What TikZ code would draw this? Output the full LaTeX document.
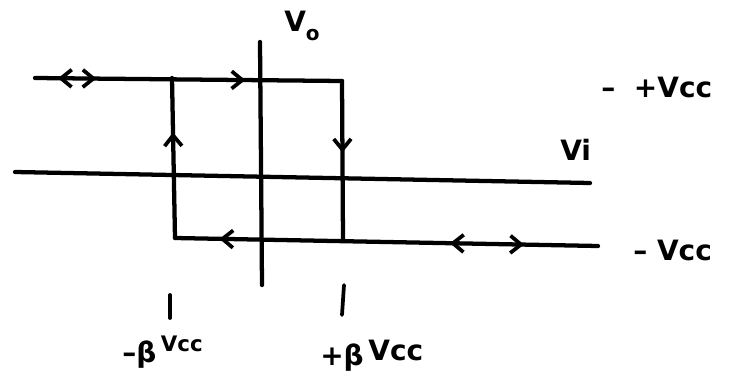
\documentclass[tikz,border=0pt]{standalone}
\usepackage{fontspec}
\setmainfont{DejaVu Sans}
\usetikzlibrary{arrows.meta,decorations.markings}
\tikzset{
  ln/.style={line width=3.2pt, line cap=round, line join=round},
  tk/.style={line width=2.8pt, line cap=round},
  lab/.style={font=\bfseries\fontsize{21}{24}\selectfont, inner sep=0pt},
  fwd/.style={postaction={decorate,decoration={markings,mark=at position #1 with {\arrow{Straight Barb[length=8pt,width=13pt,line width=2.8pt]}}}}},
  bwd/.style={postaction={decorate,decoration={markings,mark=at position #1 with {\arrowreversed{Straight Barb[length=8pt,width=13pt,line width=2.8pt]}}}}}
}
\begin{document}
\begin{tikzpicture}[x=0.75pt,y=-0.75pt]
\useasboundingbox (0,0) rectangle (743,385);
% coordinates
\coordinate (vtop) at (260,42);
\coordinate (vbot) at (262,285);
\coordinate (hl) at (15,172);
\coordinate (hr) at (590,183);
\coordinate (ua) at (35,78);
\coordinate (ul) at (172,78);
\coordinate (ur) at (342,81);
\coordinate (ll) at (175,238);
\coordinate (lr) at (343,240);
\coordinate (le) at (598,246);
\coordinate (t1a) at (170,295);
\coordinate (t1b) at (170,318);
\coordinate (t2a) at (344,285);
\coordinate (t2b) at (342,315);
% axes
\draw[ln] (vtop) -- (vbot);
\draw[ln] (hl) -- (hr);
% upper line
\draw[ln, bwd=0.075, fwd=0.20, fwd=0.685] (ua) -- (ur);
% right vertical (down)
\draw[ln, fwd=0.45] (ur) -- (lr);
% left vertical (up)
\draw[ln, fwd=0.66] (ll) -- (ul);
% lower line (right to left)
\draw[ln, fwd=0.895, fwd=0.35, bwd=0.175] (le) -- (ll);
% ticks
\draw[tk] (t1a) -- (t1b);
\draw[tk] (t2a) -- (t2b);
% labels
\node[lab, anchor=west] (vo) at (284,26) {V\raisebox{-0.6ex}{\fontsize{15}{17}\selectfont o}};
\node[lab, anchor=west] (vcc) at (601,87) {–\hspace{14pt}+Vcc};
\node[lab, anchor=west] (vi) at (560,150) {Vi};
\node[lab, anchor=west] (mvcc) at (633,250) {– Vcc};
\node[lab, anchor=west] (mb) at (122,352) {–β\,\raisebox{0.7ex}{\fontsize{16}{18}\selectfont Vcc}};
\node[lab, anchor=west] (pb) at (320,356) {+β\,\raisebox{0.3ex}{Vcc}};
\end{tikzpicture}
\end{document}
